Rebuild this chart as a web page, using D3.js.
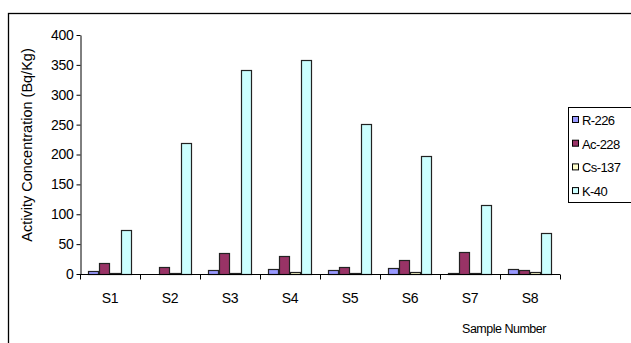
<!DOCTYPE html>
<html>
<head>
<meta charset="utf-8">
<script src="https://cdn.jsdelivr.net/npm/d3@7"></script>
<style>
  html, body { margin: 0; padding: 0; background: #fff; }
  svg { display: block; font-family: "Liberation Sans", Arial, sans-serif; }
</style>
</head>
<body>
<svg id="chart" width="631" height="343"></svg>
<script>
// Sample sites along the x axis
const samples = ["S1", "S2", "S3", "S4", "S5", "S6", "S7", "S8"];
// Radionuclide series (Bq/Kg)
const seriesNames = ["R-226", "Ac-228", "Cs-137", "K-40"];
const ra226 = [5, 0, 7, 8, 6, 10, 1, 8];
const ac228 = [18, 12, 35, 30, 11, 23, 36, 6];
const cs137 = [2, 2, 1, 3, 2, 3, 2, 3];
const k40 = [73, 220, 341, 358, 251, 198, 115, 68];
const seriesValues = [ra226, ac228, cs137, k40];
const seriesColors = ["#9999FF", "#993366", "#FFFFCC", "#CCFFFF"];
const yTicks = [0, 50, 100, 150, 200, 250, 300, 350, 400];

const svg = d3.select("#chart");

// Outer chart-area frame
svg.append("rect")
  .attr("x", 8.5).attr("y", 13.5)
  .attr("width", 640).attr("height", 340)
  .attr("fill", "none").attr("stroke", "#000").attr("stroke-width", 1.3);

const plotLeft = 80, plotRight = 560, plotTop = 35, plotBottom = 274;

const x = d3.scaleBand().domain(samples).range([plotLeft, plotRight]).paddingInner(0).paddingOuter(0);
const xs = d3.scaleBand().domain(seriesNames).range([8, 52]).padding(0);
const y = d3.scaleLinear().domain([0, 400]).range([plotBottom, plotTop]);

// Bars
const groups = svg.append("g").selectAll("g")
  .data(samples)
  .join("g")
  .attr("transform", d => `translate(${x(d)},0)`);

groups.selectAll("rect")
  .data((d, i) => seriesNames.map((s, j) => ({ s, v: seriesValues[j][i], c: seriesColors[j] })).filter(e => e.v > 0))
  .join("rect")
  .attr("x", d => xs(d.s) + 0.5)
  .attr("y", d => Math.round(y(d.v)) + 0.5)
  .attr("width", xs.bandwidth() - 1)
  .attr("height", d => plotBottom - Math.round(y(d.v)))
  .attr("fill", d => d.c)
  .attr("stroke", "#222")
  .attr("stroke-width", 1.2);

// Y axis
const yAxis = svg.append("g")
  .attr("transform", `translate(${plotLeft + 0.5},0)`)
  .call(d3.axisLeft(y).tickValues(yTicks).tickSize(4).tickSizeOuter(0).tickPadding(3));
yAxis.select(".domain").attr("stroke", "#000");
yAxis.selectAll("line").attr("stroke", "#000");
yAxis.selectAll("text").attr("font-size", 14).attr("fill", "#000")
  .attr("letter-spacing", -0.3)
  .attr("font-family", "'Liberation Sans', Arial, sans-serif");

// X axis with ticks on category boundaries
const xAxisG = svg.append("g").attr("transform", `translate(0,${plotBottom + 0.5})`);
xAxisG.append("line")
  .attr("x1", plotLeft).attr("x2", plotRight)
  .attr("stroke", "#000");
const boundaries = samples.map(s => x(s)).concat([plotRight]);
xAxisG.selectAll("line.tick")
  .data(boundaries)
  .join("line")
  .attr("class", "tick")
  .attr("x1", d => d + 0.5).attr("x2", d => d + 0.5)
  .attr("y1", 0).attr("y2", 5)
  .attr("stroke", "#000");
xAxisG.selectAll("text")
  .data(samples)
  .join("text")
  .attr("x", d => x(d) + x.bandwidth() / 2)
  .attr("y", 28)
  .attr("text-anchor", "middle")
  .attr("font-size", 14)
  .attr("letter-spacing", -0.3)
  .text(d => d);

// Axis titles
svg.append("text")
  .attr("transform", `translate(32,145) rotate(-90)`)
  .attr("text-anchor", "middle")
  .attr("font-size", 14.5)
  .text("Activity Concentration (Bq/Kg)");

svg.append("text")
  .attr("x", 504).attr("y", 333)
  .attr("text-anchor", "middle")
  .attr("font-size", 12.5)
  .attr("letter-spacing", -0.5)
  .text("Sample Number");

// Legend
const legend = svg.append("g");
legend.append("rect")
  .attr("x", 568.5).attr("y", 107.5)
  .attr("width", 80).attr("height", 95)
  .attr("fill", "#fff").attr("stroke", "#000");
const items = legend.selectAll("g.item")
  .data(seriesNames)
  .join("g")
  .attr("class", "item")
  .attr("transform", (d, i) => `translate(572,${120 + i * 23.7})`);
items.append("rect")
  .attr("x", 0.5).attr("y", -3.5)
  .attr("width", 6).attr("height", 6)
  .attr("fill", (d, i) => seriesColors[i])
  .attr("stroke", "#000");
items.append("text")
  .attr("x", 10).attr("y", 5)
  .attr("font-size", 13)
  .attr("letter-spacing", -0.6)
  .text(d => d);
</script>
</body>
</html>
